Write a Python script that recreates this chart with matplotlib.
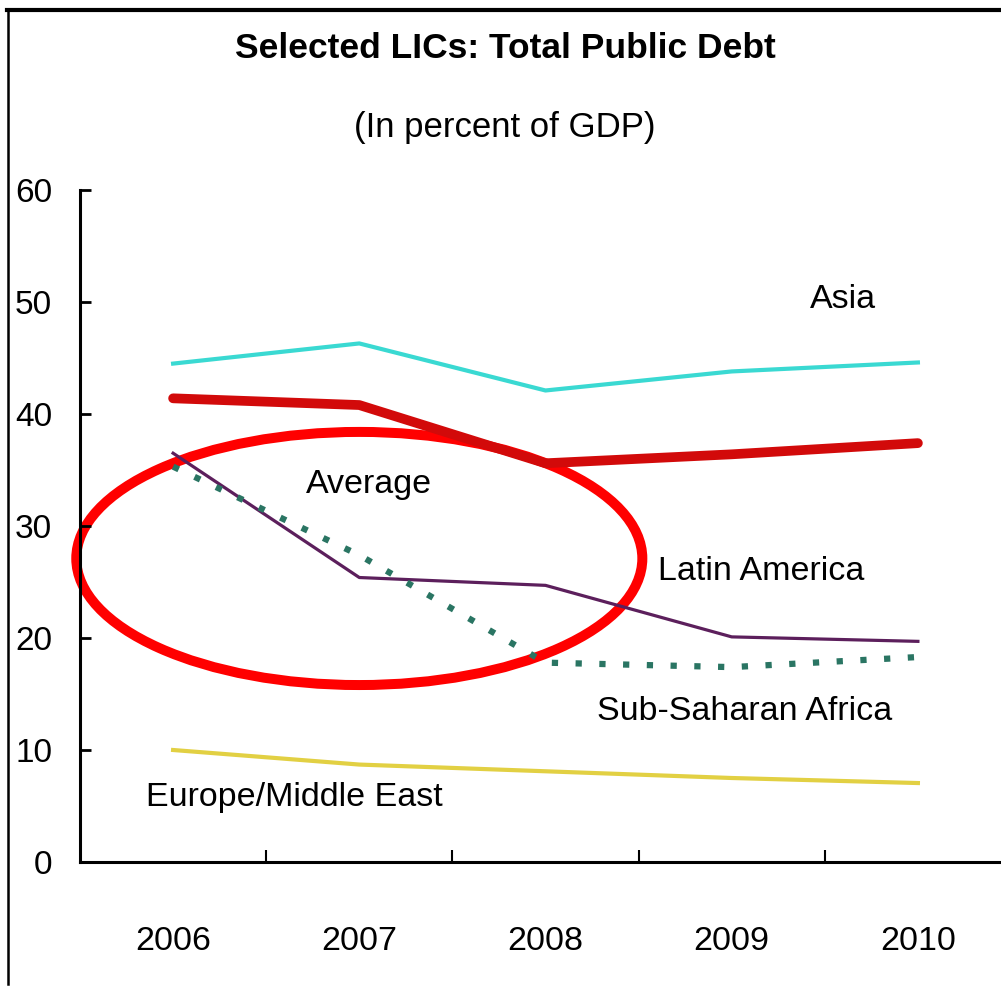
import matplotlib
matplotlib.use("Agg")
import matplotlib.pyplot as plt
from matplotlib.patches import Ellipse
from matplotlib.lines import Line2D

plt.rcParams['font.family'] = ['Liberation Sans Narrow', 'Liberation Sans', 'DejaVu Sans']

years = ['2006', '2007', '2008', '2009', '2010']
asia = [44.5, 46.3, 42.1, 43.8, 44.6]
average = [41.4, 40.8, 35.6, 36.4, 37.4]
latin_america = [36.5, 25.4, 24.7, 20.1, 19.7]
ssa = [35.3, 27.4, 17.8, 17.4, 18.3]
europe_me = [10.0, 8.7, 8.1, 7.5, 7.05]

x = list(range(len(years)))

fig = plt.figure(figsize=(10.01, 9.88), dpi=100)
ax = fig.add_axes([80/1001, 126/988, 931/1001, 672/988])

ax.plot(x, asia, color='#3ad9d2', lw=3)
ax.plot(x, average, color='#d20a0a', lw=7, solid_capstyle='round')
ax.plot(x, latin_america, color='#5c1f5c', lw=2.3)
ax.plot(x, ssa, color='#2a7563', lw=4.5, linestyle=(0, (1, 2.8)))
ax.plot(x, europe_me, color='#e2d043', lw=3)

ax.set_xlim(-0.5, 4.5)
ax.set_ylim(0, 60)

for s in ['top', 'right']:
    ax.spines[s].set_visible(False)
for s in ['left', 'bottom']:
    ax.spines[s].set_linewidth(2.2)

ax.set_yticks(range(0, 61, 10))
ax.tick_params(axis='y', direction='in', length=8, width=2, labelsize=24, pad=20)
ax.set_xticks([0.5, 1.5, 2.5, 3.5])
ax.set_xticklabels([])
ax.tick_params(axis='x', which='major', direction='in', length=9, width=1.5)
ax.set_xticks(x, minor=True)
ax.set_xticklabels(years, minor=True)
ax.tick_params(axis='x', which='minor', length=0, labelsize=24.5, pad=46)

fs = 24.5
ax.text(3.6, 50.2, 'Asia', fontsize=fs, ha='center', va='center')
ax.text(1.05, 33.7, 'Average', fontsize=fs, ha='center', va='center')
ax.text(3.16, 25.9, 'Latin America', fontsize=fs, ha='center', va='center')
ax.text(3.07, 13.4, 'Sub-Saharan Africa', fontsize=fs, ha='center', va='center')
ax.text(0.65, 5.8, 'Europe/Middle East', fontsize=fs, ha='center', va='center')

ax.add_patch(Ellipse((1.0, 27.1), 3.04, 22.6, fill=False, edgecolor='#ff0000',
                     lw=7.2, clip_on=False))

fig.text(505/1001, 1 - 48/988, 'Selected LICs: Total Public Debt', fontsize=25.5,
         fontweight='bold', ha='center', va='center')
fig.text(505/1001, 1 - 128/988, '(In percent of GDP)', fontsize=25,
         ha='center', va='center')

fig.add_artist(Line2D([7/1001, 1], [1 - 10/988, 1 - 10/988], color='black', lw=3))
fig.add_artist(Line2D([8/1001, 8/1001], [1 - 10/988, 1 - 984/988], color='black', lw=1.8))

fig.savefig('out.png', dpi=100, facecolor='white')
